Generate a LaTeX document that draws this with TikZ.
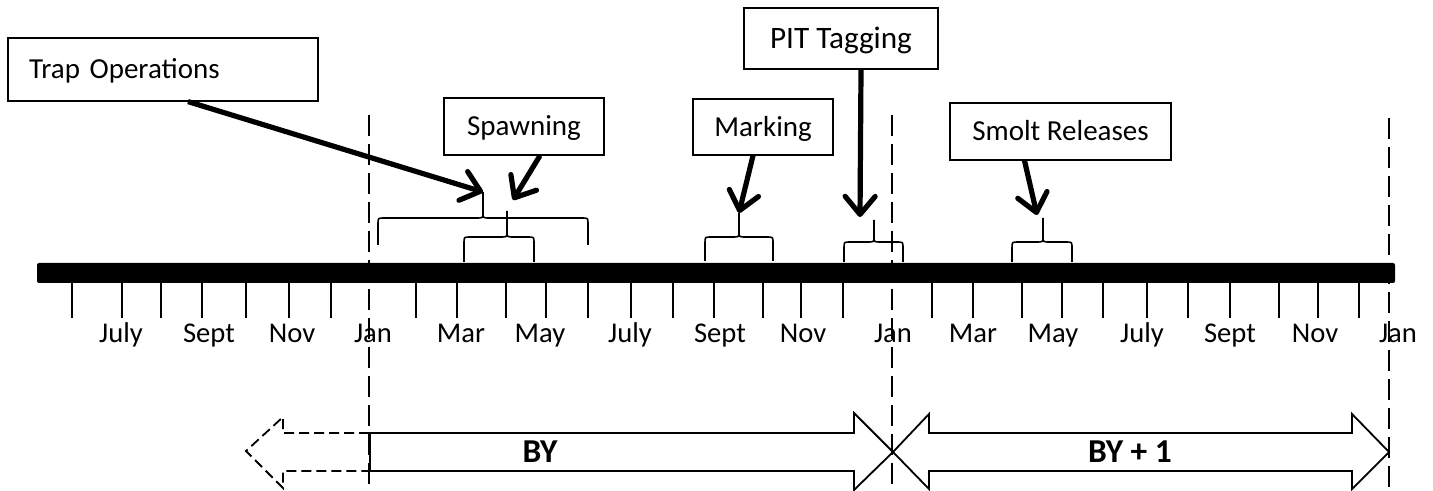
\documentclass[tikz,border=0pt]{standalone}
\usepackage{fontspec}
\setmainfont{Carlito}
\usetikzlibrary{arrows.meta}

\newcommand{\periodbrace}[7]{%
  \draw[bracestyle] (#1,#4) -- (#1,#5+6) .. controls (#1,#5) .. (#1+6,#5)
    -- (#3-6,#5) .. controls (#3,#5) .. (#3,#5-6) -- (#3,#6)
    (#3,#5-6) .. controls (#3,#5) .. (#3+6,#5)
    -- (#2-6,#5) .. controls (#2,#5) .. (#2,#5+6) -- (#2,#4);
  \coordinate (#7) at (#3,#6);}

\begin{document}
\begin{tikzpicture}[x=0.5pt,y=-0.5pt,
    opbox/.style={draw,line width=0.6pt,inner sep=0pt,
      font=\fontsize{14.5}{17}\selectfont,text height=9.3pt,text depth=0pt},
    callout/.style={line width=2.6pt,
      -{Straight Barb[length=9pt,width=15pt,line cap=round,line join=round]}},
    bracestyle/.style={line width=0.8pt},
    yearline/.style={line width=1.3pt,dash pattern=on 10.5pt off 4pt},
    monthlbl/.style={anchor=base,inner sep=0pt,font=\fontsize{14.3}{17}\selectfont},
    yeararrow/.style={line width=0.9pt,line join=miter},
    yeartext/.style={inner sep=0pt,font=\fontsize{16.7}{20}\selectfont\bfseries,
      text height=10.75pt,text depth=0pt}]
      \useasboundingbox (0,0) rectangle (1433,491);

      \fill[rounded corners=1pt] (37,263) rectangle (1395,283);
      \foreach \tx in {72,122,161,202,246,289,331,416,457,506,546,588,631,673,714,
        763,801,843,932,973,1022,1062,1103,1147,1188,1230,1279,1318,1359}
        \draw[line width=0.7pt] (\tx,283) -- (\tx,318);
      \foreach \mx/\mname [count=\i] in {121/July,209/Sept,292/Nov,373/Jan,461/Mar,
        540/May,630/July,720/Sept,803/Nov,893/Jan,973/Mar,1053/May,1142/July,
        1230/Sept,1315/Nov,1398/Jan}
        \node[monthlbl] (m\i) at (\mx,343) {\mname};
      \foreach \yx/\ytop in {369/115,892/115,1389/118}
        \draw[yearline] (\yx,\ytop) -- (\yx,491);

      \node[opbox,minimum width=155pt,minimum height=31.5pt,inner xsep=10.5pt,
        text width=134pt,align=left] (trap) at (163,69.5) {Trap Operations};
      \node[opbox,minimum width=80pt,minimum height=28.5pt] (spawn) at (524,126.5) {Spawning};
      \node[opbox,minimum width=70pt,minimum height=28pt] (mark) at (763,127) {Marking};
      \node[opbox,minimum width=97pt,minimum height=30.5pt,text height=10pt,
        font=\fontsize{15.6}{18}\selectfont] (pit) at (841,38.5) {PIT Tagging};
      \node[opbox,minimum width=110.5pt,minimum height=28.5pt] (smolt) at (1060.5,131.5) {Smolt Releases};

      \periodbrace{378}{588}{483}{245}{218}{192}{trapspan}
      \periodbrace{464}{534}{507}{262}{237}{211}{spawnspan}
      \periodbrace{705}{773}{739}{261}{237}{213}{markspan}
      \periodbrace{844}{903}{874}{262}{242}{220}{pitspan}
      \periodbrace{1012}{1072}{1043}{262}{242}{218}{smoltspan}

      \coordinate (spawnend) at (513,200);
      \coordinate (pitend) at (860,217);
      \coordinate (smoltend) at (1037,215);
      \draw[callout] ([xshift=12.5pt]trap.south) -- (trapspan);
      \draw[callout] ([xshift=8pt]spawn.south) -- (spawnend);
      \draw[callout] ([xshift=-5pt]mark.south) -- (markspan);
      \draw[callout] ([xshift=10pt]pit.south) -- (pitend);
      \draw[callout] ([xshift=-18pt]smolt.south) -- (smoltend);

      \draw[yeararrow,dash pattern=on 5pt off 2.5pt] (369,433) -- (283,433) -- (283,417)
        -- (246,451) -- (283,488) -- (283,471) -- (369,471);
      \draw[yeararrow] (370,433) -- (854,433) -- (854,413) -- (893,452) -- (854,490)
        -- (854,471) -- (370,471) -- cycle;
      \draw[yeararrow] (893,452) -- (929,414) -- (929,433) -- (1352,433) -- (1352,414)
        -- (1389,452) -- (1352,489) -- (1352,471) -- (929,471) -- (929,489) -- cycle;
      \node[yeartext] (by) at (540,452) {BY};
      \node[yeartext] (byone) at (1130,452) {BY + 1};
    \end{tikzpicture}
\end{document}
